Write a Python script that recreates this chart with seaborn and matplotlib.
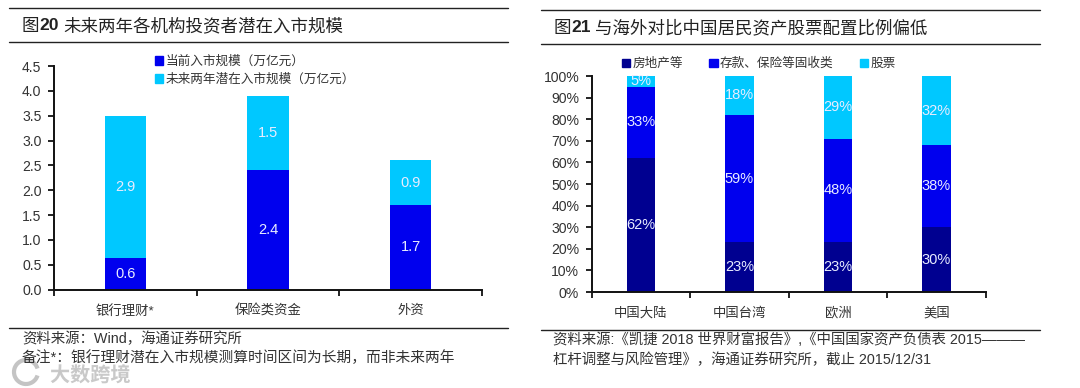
import matplotlib
matplotlib.use("Agg")
import matplotlib.pyplot as plt
import matplotlib.patheffects as pe
from matplotlib.lines import Line2D
from matplotlib.patches import Patch, Arc
import numpy as np
import seaborn as sns

sns.set_theme(style="white")
FONT = ['Liberation Sans', 'Noto Sans CJK SC', 'DejaVu Sans']
plt.rcParams['font.family'] = FONT
plt.rcParams['axes.unicode_minus'] = False

# left chart
left_cats = ['银行理财*', '保险类资金', '外资']
left_current = [0.64, 2.4, 1.7]
left_potential = [2.86, 1.5, 0.9]
left_series = ['当前入市规模（万亿元）', '未来两年潜在入市规模（万亿元）']
left_ticks = [0, 0.5, 1, 1.5, 2, 2.5, 3, 3.5, 4, 4.5]

# right chart
right_cats = ['中国大陆', '中国台湾', '欧洲', '美国']
right_property = [62, 23, 23, 30]
right_fixed = [33, 59, 48, 38]
right_stock = [5, 18, 29, 32]
right_series = ['房地产等', '存款、保险等固收类', '股票']
right_ticks = list(range(0, 101, 10))

NAVY, BLUE, CYAN = '#000090', '#0000EE', '#00C8FF'
INK = '#333333'
W, H = 1080, 388

fig = plt.figure(figsize=(W / 100, H / 100), dpi=100, facecolor='white')


def px_axes(x0, x1, ytop, ybot):
    return fig.add_axes([x0 / W, 1 - ybot / H, (x1 - x0) / W, (ybot - ytop) / H])


def ptext(x, y, s, size=10.4, color=INK, **kw):
    kw.setdefault('va', 'center')
    return fig.text(x / W, 1 - y / H, s, fontsize=size, color=color, **kw)


def rule(x0, x1, y, color='#222222', lw=1.0):
    fig.add_artist(Line2D([x0 / W, x1 / W], [1 - y / H, 1 - y / H], color=color, lw=lw))


def stacked(ax, cats, layers, colors, fmt, width=0.29):
    base = np.zeros(len(cats))
    for vals, col in zip(layers, colors):
        sns.barplot(x=cats, y=vals, bottom=base, color=col, saturation=1, width=width,
                    ax=ax, errorbar=None, order=cats, linewidth=0, edgecolor=col)
        for i, v in enumerate(vals):
            ax.text(i, base[i] + v / 2, fmt(v), ha='center', va='center',
                    color='#E8ECFF', fontsize=10.5)
        base = base + np.array(vals)


def style(ax, n, yticks, ylabels, ymax):
    ax.set_xlim(-0.5, n - 0.5)
    ax.set_ylim(0, ymax)
    ax.set_yticks(yticks)
    ax.set_yticklabels(ylabels)
    ax.set_xticks(range(n))
    ax.set_xticks(np.arange(n + 1) - 0.5, minor=True)
    ax.tick_params(axis='x', which='major', length=0, labelsize=9.6, labelcolor=INK, pad=11)
    ax.tick_params(axis='x', which='minor', length=4, width=1.3, color='#111111', bottom=True)
    ax.tick_params(axis='y', length=4, width=1.3, color='#111111', labelsize=10.1,
                   labelcolor=INK, pad=5, left=True)
    sns.despine(ax=ax)
    for s in ('left', 'bottom'):
        ax.spines[s].set_color('#111111')
        ax.spines[s].set_linewidth(1.4)
    ax.set_xlabel('')
    ax.set_ylabel('')


# ---- left
axL = px_axes(54, 482, 66, 289.7)
stacked(axL, left_cats, [left_current, left_potential], [BLUE, CYAN], lambda v: f'{v:.1f}')
style(axL, 3, left_ticks, [f'{t:.1f}' for t in left_ticks], 4.5)
axL.legend(handles=[Patch(color=BLUE), Patch(color=CYAN)], labels=left_series, frameon=False,
           loc='upper left', bbox_to_anchor=(155 / W, 1 - 55.5 / H), bbox_transform=fig.transFigure,
           fontsize=9.1, labelcolor=INK, handlelength=0.65, handleheight=0.65, handletextpad=0.2,
           labelspacing=0.47, borderpad=0, borderaxespad=0)

# ---- right
axR = px_axes(591.7, 985.7, 76, 292)
stacked(axR, right_cats, [right_property, right_fixed, right_stock], [NAVY, BLUE, CYAN],
        lambda v: f'{v:d}%')
style(axR, 4, right_ticks, [f'{t}%' for t in right_ticks], 100)
axR.legend(handles=[Patch(color=NAVY), Patch(color=BLUE), Patch(color=CYAN)], labels=right_series,
           frameon=False, ncol=3, loc='upper left', bbox_to_anchor=(621.5 / W, 1 - 58 / H),
           bbox_transform=fig.transFigure, fontsize=9.1, labelcolor=INK, handlelength=0.65,
           handleheight=0.65, handletextpad=0.2, columnspacing=2.1, borderpad=0, borderaxespad=0)

# ---- frame rules
for y in (8, 42, 328):
    rule(9, 508, y)
for y in (10, 44, 330):
    rule(541, 1040, y)

# ---- headings
ptext(22, 26, '图', size=12.6, color='#222222')
ptext(39, 26, '20', size=12.6, color='#222222', fontweight='bold')
ptext(63, 26, '未来两年各机构投资者潜在入市规模', size=12.6, color='#222222')
ptext(554, 28, '图', size=12.6, color='#222222')
ptext(571, 28, '21', size=12.6, color='#222222', fontweight='bold')
ptext(595, 28, '与海外对比中国居民资产股票配置比例偏低', size=12.6, color='#222222')

# ---- notes
ptext(22, 339, '资料来源：Wind，海通证券研究所')
ptext(22, 358, '备注*：银行理财潜在入市规模测算时间区间为长期，而非未来两年', size=10.6)
ptext(553, 340, '资料来源:《凯捷 2018 世界财富报告》,《中国国家资产负债表 2015———')
ptext(553, 360, '杠杆调整与风险管理》，海通证券研究所，截止 2015/12/31')

# ---- watermark
wm = ptext(50, 375.5, '大数跨境', size=14.5, color='#C4C4C4', fontweight='bold', alpha=0.9)
wm.set_path_effects([pe.withStroke(linewidth=2, foreground='white')])
fig.add_artist(Arc((26 / W, 1 - 372 / H), 24 / W, 24 / H, theta1=40, theta2=320, color='#C4C4C4',
                   lw=3, transform=fig.transFigure))

fig.savefig('out.png', dpi=100, facecolor='white')
